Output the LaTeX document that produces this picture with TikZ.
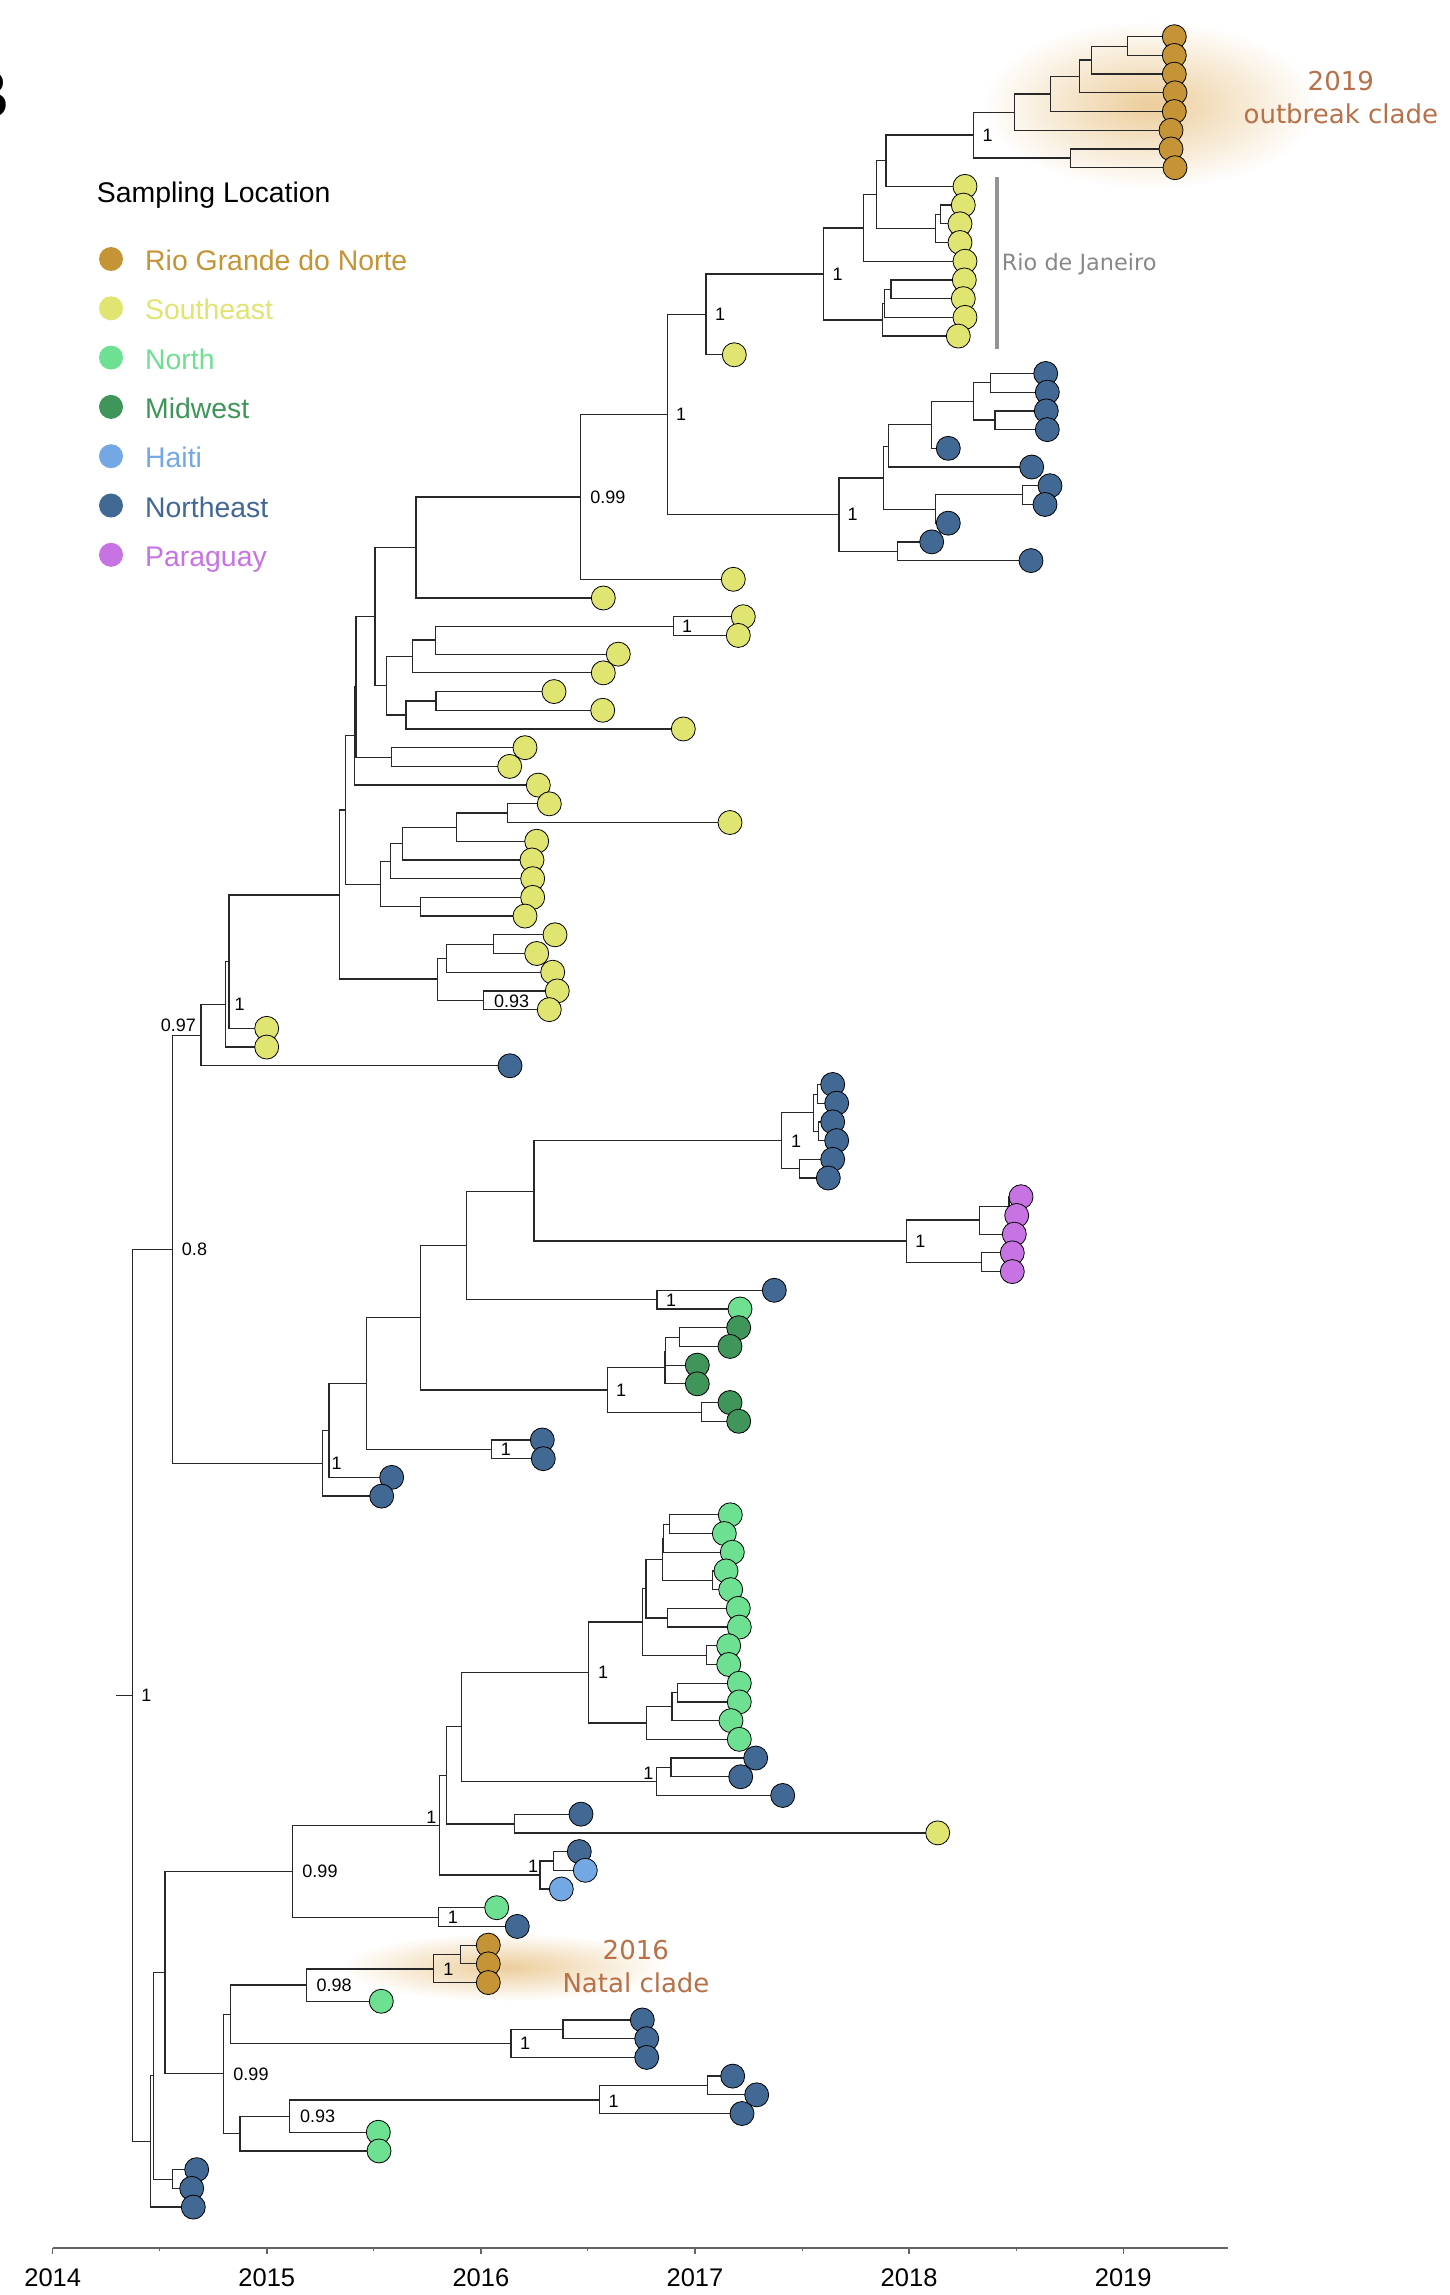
\documentclass[tikz,border=0pt]{standalone}
\usepackage{fontspec}
\setmainfont{Liberation Sans}
\newfontfamily\dejavu{DejaVu Sans}
\definecolor{RGN}{RGB}{197,148,54}
\definecolor{SE}{RGB}{224,228,112}
\definecolor{NO}{RGB}{110,224,145}
\definecolor{MW}{RGB}{64,150,90}
\definecolor{HA}{RGB}{115,168,228}
\definecolor{NE}{RGB}{66,104,148}
\definecolor{PY}{RGB}{200,115,228}
\definecolor{cladecol}{RGB}{184,112,72}
\definecolor{glow}{RGB}{236,205,155}
\definecolor{rjgray}{RGB}{136,136,136}
\definecolor{brc}{RGB}{40,40,40}
\def\leaflist{0/1174.3/RGN,1/1174.3/RGN,2/1174.3/RGN,3/1175/RGN,4/1174.3/RGN,5/1171/RGN,6/1171/RGN,7/1175/RGN,%
8/965/SE,9/963.3/SE,10/960/SE,11/960/SE,12/965/SE,13/964.3/SE,14/963.3/SE,15/965/SE,16/958.3/SE,17/734.3/SE,%
18/1045.7/NE,19/1047.3/NE,20/1046.3/NE,21/1047.3/NE,22/948.3/NE,23/1031.7/NE,24/1050/NE,25/1045/NE,26/948.3/NE,27/931.7/NE,28/1031/NE,%
29/733.3/SE,30/603.3/SE,31/743.3/SE,32/738.3/SE,33/618.3/SE,34/603.3/SE,35/554/SE,36/602.7/SE,37/683.3/SE,38/525/SE,39/509.7/SE,40/538.3/SE,%
41/549.3/SE,42/730/SE,43/536.7/SE,44/532/SE,45/532.7/SE,46/532.7/SE,47/525/SE,48/555/SE,49/536.7/SE,50/552.7/SE,51/557.3/SE,52/549.3/SE,53/266.7/SE,54/266.7/SE,%
55/510/NE,56/832.7/NE,57/836.7/NE,58/832.7/NE,59/836.7/NE,60/832.7/NE,61/828.3/NE,%
62/1021/PY,63/1016.7/PY,64/1014.3/PY,65/1012.3/PY,66/1012.3/PY,%
67/774.3/NE,68/740/NO,69/738.7/MW,70/730/MW,71/697.3/MW,72/697.3/MW,73/730/MW,74/738.7/MW,%
75/542.3/NE,76/543.3/NE,77/391.7/NE,78/381.7/NE,%
79/730.3/NO,80/724.3/NO,81/732.3/NO,82/726/NO,83/730.7/NO,84/738.3/NO,85/739.3/NO,86/728.7/NO,87/728.7/NO,88/739.3/NO,89/739.3/NO,90/731/NO,91/739.3/NO,%
92/755.7/NE,93/740.7/NE,94/782.7/NE,95/581/NE,96/937.7/SE,97/579.3/NE,98/585.3/HA,99/561.3/HA,100/496.7/NO,101/517.3/NE,%
102/488.3/RGN,103/488.3/RGN,104/488.3/RGN,105/381.3/NO,106/642.3/NE,107/646.7/NE,108/646.7/NE,109/732.7/NE,110/756.7/NE,111/742/NE,%
112/378.3/NO,113/379/NO,114/196.7/NE,115/191.7/NE,116/193.3/NE}
\begin{document}
\begin{tikzpicture}[x=1pt,y=-1pt,
  branch/.style={draw=brc, line width=1.25pt},
  tip/.style={circle, draw=black, line width=0.8pt, minimum size=24pt, inner sep=0pt},
  legdot/.style={circle, minimum size=24pt, inner sep=0pt},
  blab/.style={font=\fontsize{18}{20}\selectfont, inner sep=0pt, text=black},
  legtxt/.style={font=\fontsize{28.4}{30}\selectfont, inner sep=0pt, anchor=base west},
  axlab/.style={font=\fontsize{25.5}{27}\selectfont, inner sep=0pt, anchor=base},
  axline/.style={draw={rgb,255:red,100;green,100;blue,100}, line width=1.4pt},
  cladelab/.style={font=\dejavu\fontsize{26}{28}\selectfont, text=cladecol, inner sep=0pt, anchor=base}]
\fill[white] (0,0) rectangle (1449,2295);
\useasboundingbox (0,0) rectangle (1449,2295);

% glows
\shade[inner color=glow, outer color=white] (1150,105) ellipse [x radius=168pt, y radius=84pt];
\shade[inner color=glow, outer color=white] (505,1967) ellipse [x radius=165pt, y radius=34pt];

% panel letter
\node[font=\bfseries\fontsize{69}{70}\selectfont, inner sep=0pt, anchor=base east] (panel) at (10,118.6) {B};

% legend
\node[legtxt] (legtitle) at (96.7,202.8) {Sampling Location};
\foreach \lab/\c [count=\i] in {Rio Grande do Norte/RGN, Southeast/SE, North/NO, Midwest/MW, Haiti/HA, Northeast/NE, Paraguay/PY}{
  \node[legdot, fill=\c] (ld\i) at (111,{259+49.3*(\i-1)}) {};
  \node[legtxt, text=\c] (lt\i) at (145,{270.5+49.3*(\i-1)}) {\lab};
}

% leaf coordinates
\foreach \r/\x/\c in \leaflist { \coordinate (r\r) at (\x,{36.7+18.71*\r}); }

% internal node coordinates
\foreach \n/\x/\y in {R0/132.3/1695.7, A/172.3/1249.5, B/201/1035.4, C/225.7/1004.4, D/229/961.5,
  E/339.3/894.9, F/345.7/810, K/354.3/735.7, L/356/687, I/375/616.7, H/416/547.2, S/580.3/497.1,
  T/667.3/414.4, U/706/314.5, V/823.3/274, W/863.3/228, X/876.3/194.8, Y/886/160.7,
  OA/973.3/135.1, OB/1014.3/112.5, OC/1050.7/94.1, OD/1079.3/76.5, OE/1091.7/60.1, OF/1127.7/46.3, OG/1070.7/158,
  Z1/935.3/228.4, Z2/940.3/214.7, AA/882.3/319.9, AB/884.3/303.4, AC/891/289.7,
  BA/839/514.3, BB/883.3/478, BC/888.3/446.2, BD/931.3/424.7, BE/973.3/401.8, BF/990.3/382.7, BG/995/420.1,
  BH/935.3/509.3, BI/1022.7/494.4, BJ/897.3/551.4,
  J/386.7/685.6, J1/412.3/656.5, J3/435.7/640.1, N31/673.3/626.3, J2/406/715.1, J4/436/700.9, M/391.7/757.2,
  F2/380.7/884.2, N/390.7/861.3, O/402.3/843.6, P/456.3/827.6, Q/507.3/813, RR/420.3/906.4,
  G/437.7/979.1, G1/446.3/958.4, G3/493.3/944.3, G2/483.7/1000.2,
  CA/322.3/1463.4, CB/329/1430.5, CC/366.7/1383.5, CN/491.7/1449.3, CD/420.7/1317.3, CE/466.3/1245.7,
  CJ/534/1191.4, CK/781.7/1140.6, CK1/813.3/1112.7, CK2/817.3/1094.3, CK3/818.3/1131.4, CK4/799.3/1168.5,
  CL/906.3/1241.1, CL1/979.3/1220.1, PA/1009/1206.3, CL2/981.3/1262.2, CM/657/1299.7,
  CF/607.3/1390, CG/665/1367.8, CH/665.7/1351.3, CH1/679.3/1337.2, CI/701.3/1412.2,
  DA/150.3/2141.7, DB/153.3/2075.5, DC/172.3/2179.3, DD/165/1972.5, DE/292.3/1871.3, DG/439.3/1825.3,
  DK/446.7/1775.4, DL/461.3/1726.7, DO/588.7/1672.4, DP/642.7/1621.9, DQ/646/1588.6, DR/662.3/1559.5,
  DS/663.7/1538.8, DT/669.3/1524.3, DR2/712.3/1580.5, DQ2/667.7/1618, DP2/706.7/1655.5,
  DO2/646.7/1722.9, DO3/672/1706.4, DO4/677.7/1692.7, DN/656.7/1781.4, DN1/671/1767.3,
  DM/514.3/1823.9, DI/540/1874.9, DJ/553.7/1861, DH/438.7/1917.3,
  DF/223.3/2073.8, DU/230.3/2014.3, DV/306.7/1985, DW/433.7/1969, DW1/460.7/1954.5,
  DX/511/2043.3, DX1/563/2029.5, DY/240/2133.2, DZ/289.3/2116.3, EA/599.3/2100, EA1/707.3/2085.5}
  { \coordinate (\n) at (\x,\y); }

% root stub
\coordinate (rootstub) at (116,1695.7);
\draw[branch] (rootstub) -- (R0);

% branches
\foreach \p/\c in {R0/A, R0/DA, A/B, A/CA, B/C, B/r55, C/D, C/r54, D/E, D/r53, E/F, E/G,
  F/K, F/F2, K/L, K/r40, L/I, L/M, I/H, I/J, H/S, H/r30, S/T, S/r29, T/U, T/BA,
  U/V, U/r17, V/W, V/AA, W/X, W/r12, X/Y, X/Z1, Y/OA, Y/r8, OA/OB, OA/OG,
  OB/OC, OB/r5, OC/OD, OC/r4, OD/OE, OD/r3, OE/OF, OE/r2, OF/r0, OF/r1, OG/r6, OG/r7,
  Z1/Z2, Z1/r11, Z2/r9, Z2/r10, AA/AB, AA/r16, AB/AC, AB/r15, AC/r13, AC/r14,
  BA/BB, BA/BJ, BB/BC, BB/BH, BC/BD, BC/r23, BD/BE, BD/r22, BE/BF, BE/BG,
  BF/r18, BF/r19, BG/r20, BG/r21, BH/BI, BH/r26, BI/r24, BI/r25, BJ/r27, BJ/r28,
  J/J1, J/J2, J1/J3, J1/r34, J3/N31, J3/r33, N31/r31, N31/r32, J2/J4, J2/r37, J4/r35, J4/r36,
  M/r38, M/r39, F2/N, F2/RR, N/O, N/r45, O/P, O/r44, P/Q, P/r43, Q/r41, Q/r42, RR/r46, RR/r47,
  G/G1, G/G2, G1/G3, G1/r50, G3/r48, G3/r49, G2/r51, G2/r52,
  CA/CB, CA/r78, CB/CC, CB/r77, CC/CD, CC/CN, CN/r75, CN/r76, CD/CE, CD/CF,
  CE/CJ, CE/CM, CJ/CK, CJ/CL, CK/CK1, CK/CK4, CK1/CK2, CK1/CK3, CK2/r56, CK2/r57,
  CK3/r58, CK3/r59, CK4/r60, CK4/r61, CL/CL1, CL/CL2, CL1/PA, CL1/r64, PA/r62, PA/r63,
  CL2/r65, CL2/r66, CM/r67, CM/r68, CF/CG, CF/CI, CG/CH, CG/r72, CH/CH1, CH/r71,
  CH1/r69, CH1/r70, CI/r73, CI/r74,
  DA/DB, DA/r116, DB/DD, DB/DC, DC/r114, DC/r115, DD/DE, DD/DF, DE/DG, DE/DH,
  DG/DK, DG/DI, DK/DL, DK/DM, DL/DO, DL/DN, DO/DP, DO/DO2, DP/DQ, DP/DP2,
  DQ/DR, DQ/DQ2, DR/DS, DR/DR2, DS/DT, DS/r81, DT/r79, DT/r80, DR2/r82, DR2/r83,
  DQ2/r84, DQ2/r85, DP2/r86, DP2/r87, DO2/DO3, DO2/r91, DO3/DO4, DO3/r90, DO4/r88, DO4/r89,
  DN/DN1, DN/r94, DN1/r92, DN1/r93, DM/r95, DM/r96, DI/DJ, DI/r99, DJ/r97, DJ/r98,
  DH/r100, DH/r101, DF/DU, DF/DY, DU/DV, DU/DX, DV/DW, DV/r105, DW/DW1, DW/r104,
  DW1/r102, DW1/r103, DX/DX1, DX/r108, DX1/r106, DX1/r107, DY/DZ, DY/r113,
  DZ/EA, DZ/r112, EA/EA1, EA/r111, EA1/r109, EA1/r110}
  { \draw[branch] (\p) |- (\c); }

% tips
\foreach \r/\x/\c in \leaflist { \node[tip, fill=\c] (t\r) at (r\r) {}; }

% support labels
\foreach \x/\y/\t [count=\i] in {146.3/1695.7/1, 194.5/1249.5/0.8, 178.3/1025/0.97, 239.7/1004.4/1,
  607.8/497.1/0.99, 681/414.4/1, 720/314.5/1, 837.5/274.4/1, 852.7/514.7/1, 987.5/135.5/1,
  511.7/1000.9/0.93, 687/626.7/1, 336.7/1463.4/1, 506/1449.7/1, 621/1390.4/1, 671/1300.4/1,
  920.3/1241.1/1, 796/1141.7/1, 603/1672.4/1, 320/1871.7/0.99, 431.3/1817.2/1, 453/1917/1,
  251/2074.5/0.99, 334.2/1985.3/0.98, 448.3/1969.4/1, 317.7/2116.3/0.93, 525/2043.7/1,
  613.7/2101/1, 648.3/1773.6/1, 533/1866.4/1}
  { \node[blab] (lab\i) at (\x,\y) {\t}; }

% Rio de Janeiro bracket
\coordinate (rjtop) at (996.7,177.2);
\coordinate (rjbot) at (996.7,349.4);
\draw[draw=rjgray!90, line width=4pt] (rjtop) -- (rjbot);
\node[font=\dejavu\fontsize{22.4}{24}\selectfont, text=rjgray, inner sep=0pt, anchor=base west] (rj) at (1001.7,270.9) {Rio de Janeiro};

% clade labels
\node[cladelab] (c19a) at (1340.8,90.7) {2019};
\node[cladelab] (c19b) at (1340.8,123.2) {outbreak clade};
\node[cladelab] (c16a) at (635.8,1959.4) {2016};
\node[cladelab] (c16b) at (636,1992.4) {Natal clade};

% time axis
\coordinate (axL) at (52.7,2247.9);
\coordinate (axR) at (1227.7,2247.9);
\draw[axline] (axL) -- (axR);
\foreach \k in {0,...,5} { \draw[axline] ({52.7+214.1*\k},2247.9) -- ++(0,6); }
\foreach \k in {0,...,4} { \draw[axline, line width=1pt] ({52.7+214.1*(\k+0.5)},2247.9) -- ++(0,3.5); }
\foreach \yr [count=\i] in {2014,2015,2016,2017,2018,2019}
  { \node[axlab] (yr\i) at ({52.7+214.1*(\yr-2014)},2286.9) {\yr}; }
\end{tikzpicture}
\end{document}
